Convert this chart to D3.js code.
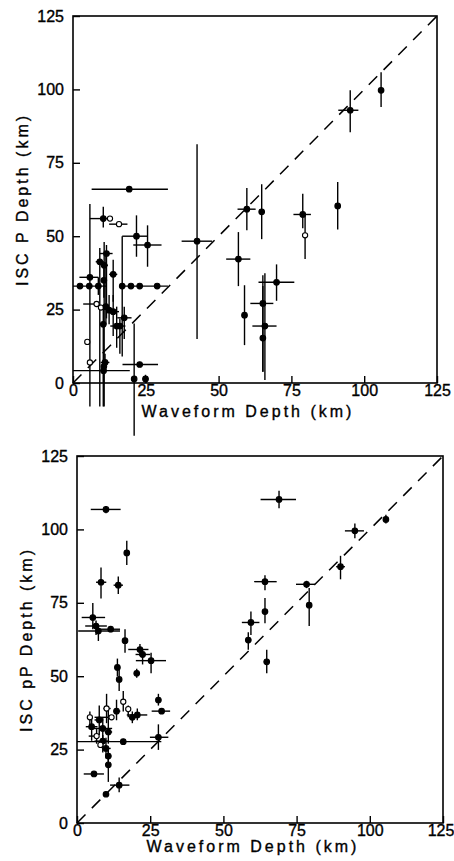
<!DOCTYPE html>
<html>
<head>
<meta charset="utf-8">
<script src="https://d3js.org/d3.v7.min.js"></script>
<style>
  body { margin: 0; background: #fff; }
  text { font-family: "Liberation Sans", Arial, sans-serif; fill: #000; stroke: #000; stroke-width: 0.35px; }
</style>
</head>
<body>
<script>
// tick values for both axes
var tickValues = [0, 25, 50, 75, 100, 125];

// [waveform depth, ISC depth, x low, x high, y low, y high, open]
var pPoints = [
  [105.8, 99.7, 105.3, 106.3, 94, 105.8, 0],
  [95.2, 92.9, 91.1, 98, 85.4, 99.7, 0],
  [42.6, 48.3, 37.3, 47.8, 15, 81.3, 0],
  [59.7, 59.2, 56.5, 62.7, 52, 66.4, 0],
  [64.8, 58.3, 64, 65.6, 49, 67.7, 0],
  [56.8, 42.2, 52.6, 60.9, 33, 51.4, 0],
  [58.9, 23.1, 58.2, 59.6, 12.9, 33.3, 0],
  [69.9, 34.3, 63.7, 76, 28, 40.4, 0],
  [65.2, 27.1, 60.9, 68.8, 3.8, 36.7, 0],
  [65.9, 19.4, 61.6, 69.9, 1, 37.4, 0],
  [65.2, 15.3, 64.5, 65.9, 3.8, 33, 0],
  [78.9, 57.4, 75.7, 81.7, 52.7, 64.5, 0],
  [79.7, 50.3, 79.7, 79.7, 42.2, 57, 1],
  [90.9, 60.3, 90.2, 91.6, 52.3, 68.5, 0],
  [19.3, 66, 6.4, 32.6, 66, 66, 0],
  [10.4, 56, 5.8, 13.7, 53, 60, 0],
  [12.7, 56, 12.7, 12.7, 56, 56, 1],
  [15.8, 54.1, 12.4, 18.7, 54.1, 54.1, 1],
  [21.8, 50, 16.9, 25.6, 43, 57.1, 0],
  [25.6, 47, 20.7, 30.4, 39.6, 53.7, 0],
  [5.8, 36, 2.2, 8.7, -8, 61, 0],
  [2.4, 33, 0, 11.5, 33, 33, 0],
  [5.6, 33, 5.6, 5.6, 33, 33, 0],
  [8.7, 33, 8.7, 8.7, 30, 36, 0],
  [16.9, 33, 16.9, 16.9, 9, 50, 0],
  [19.9, 33, 19.9, 19.9, 33, 33, 0],
  [22.9, 33, 22.9, 22.9, 33, 33, 0],
  [28.9, 33, 17, 32.6, 33, 33, 0],
  [11.5, 44.1, 9.2, 13.6, 22, 47, 0],
  [9.2, 41.3, 7.8, 10.6, -8, 46, 0],
  [10.7, 40.1, 9.5, 12, -8, 48, 0],
  [10.6, 35, 10.6, 10.6, 29, 40, 0],
  [13.8, 37, 12.4, 15.2, 27.7, 42, 0],
  [8.1, 26.9, 3.5, 8.1, 26.9, 26.9, 1],
  [9.6, 25.7, 9.6, 9.6, 25.7, 25.7, 1],
  [11.3, 26, 10.3, 12.3, 20, 44, 0],
  [12.4, 24.8, 11.4, 14.4, 20, 30, 0],
  [13.8, 24.3, 12.8, 15.8, 16, 30, 0],
  [15, 19.4, 12.8, 17, 12, 26, 0],
  [16.1, 19.4, 15, 18, 10, 22, 0],
  [17.6, 22.2, 15.2, 20.1, 15, 26, 0],
  [4.9, 14, 4.9, 4.9, 14, 14, 1],
  [5.8, 7, 5.8, 5.8, 7, 7, 1],
  [10.4, 20, 9.4, 11.4, -8, 26, 0],
  [11, 7, 9.5, 12.5, 4, 10, 0],
  [10.6, 5.6, 10.6, 10.6, 3, 8, 0],
  [10.5, 4.2, 0, 19.5, 0, 4.2, 0],
  [22.9, 6.3, 17, 29.2, 6.3, 6.3, 0],
  [21, 1.4, 21, 21, -18, 20.3, 0],
  [24.9, 1.4, 23.9, 25.9, 0, 2.8, 0]
];

var pPPoints = [
  [69, 110.2, 62.7, 74.8, 107.2, 113.2, 0],
  [9.9, 106.8, 4.7, 14.9, 105.5, 108, 0],
  [105.5, 103.4, 105.5, 105.5, 102, 105, 0],
  [94.9, 99.5, 91.5, 98, 97, 102, 0],
  [17, 92, 16.5, 17.5, 87.9, 96.1, 0],
  [90, 87.3, 88.5, 91.5, 83, 91, 0],
  [8.2, 82, 6.5, 10, 76.5, 87, 0],
  [14.1, 81, 12.5, 15.7, 78, 84, 0],
  [64.2, 82.2, 60.5, 68.2, 79.3, 84.4, 0],
  [78.4, 81.3, 74.8, 81.3, 80, 82.5, 0],
  [79.3, 74.2, 79.3, 79.3, 67.1, 80, 0],
  [64.2, 72, 63.2, 65.2, 68, 76.6, 0],
  [59.4, 68.3, 56.3, 62.3, 64, 72, 0],
  [58.5, 62.3, 57.5, 59.5, 59, 65, 0],
  [64.8, 54.9, 63.8, 65.8, 51, 59, 0],
  [5.4, 70, 1.6, 9.6, 66, 74.9, 0],
  [6.5, 67.1, 2.8, 10.2, 64, 69, 0],
  [7.3, 65.4, 0.4, 14.7, 62, 67, 0],
  [11.5, 66, 7.1, 14.7, 65, 67, 0],
  [16.4, 62.1, 16, 16.8, 58, 66, 0],
  [21.5, 59.1, 17.5, 24.4, 57, 61, 0],
  [22.4, 57.4, 20, 25, 54, 59, 0],
  [25.3, 55.3, 20.1, 30.4, 51, 58, 0],
  [13.8, 53, 13, 14.6, 50, 56, 0],
  [14.4, 48.9, 13.6, 15.2, 45, 53, 0],
  [20.4, 51, 20, 20.8, 49.5, 52.5, 0],
  [27.8, 41.9, 27, 28.6, 40, 44, 0],
  [28.9, 38.1, 25.5, 31.8, 38.1, 38.1, 0],
  [27.8, 29.2, 24.9, 31.2, 24.9, 33.6, 0],
  [14.4, 12.9, 11.3, 17.9, 10.5, 15.5, 0],
  [9.9, 9.8, 9, 10.8, 9.8, 9.8, 0],
  [5.8, 16.7, 2.3, 9.2, 16.7, 16.7, 0],
  [10.7, 19.8, 10.7, 10.7, 14, 25, 0],
  [10.7, 22.8, 9.7, 11.7, 20, 26, 0],
  [9.9, 25.4, 8.5, 11.5, 22, 29, 0],
  [15.8, 27.7, 0, 28.8, 27.7, 27.7, 0],
  [5, 32.8, 3, 7, 28, 36, 0],
  [4.4, 36, 4.4, 4.4, 33, 38, 1],
  [7.6, 35.1, 6, 9, 30, 40, 0],
  [10.1, 39, 9, 11.5, 34, 44, 1],
  [13.5, 38.1, 12.5, 14.8, 35, 42, 0],
  [15.8, 41.3, 15.8, 15.8, 38, 45, 1],
  [17.5, 38.8, 17.5, 17.5, 36, 40, 1],
  [18.9, 36, 18, 20, 34, 38, 0],
  [20.6, 36.8, 17, 24, 35, 39, 0],
  [11.8, 36, 6, 11.8, 36, 36, 1],
  [8.8, 32.2, 4, 12, 28, 36, 0],
  [10.7, 31, 9.5, 12, 27, 39, 0],
  [6.7, 29.6, 4, 6.7, 27, 32, 1],
  [8.8, 27.9, 6, 11, 24, 30, 0],
  [8, 26.6, 8, 8, 26.6, 26.6, 1]
];

var svg = d3.select("body").append("svg")
  .attr("width", 454)
  .attr("height", 861);

function drawPanel(points, box, yTitle) {
  var x = d3.scaleLinear().domain([0, 125]).range([box.left, box.right]);
  var y = d3.scaleLinear().domain([0, 125]).range([box.bottom, box.top]);
  var g = svg.append("g");

  // axes with inward ticks
  g.append("g")
    .attr("transform", "translate(0," + box.bottom + ")")
    .call(d3.axisBottom(x).tickValues(tickValues).tickSizeInner(-7).tickSizeOuter(0).tickPadding(2))
    .call(a => a.select(".domain").remove())
    .call(a => a.selectAll("line").attr("stroke", "#000").attr("stroke-width", 1.4))
    .call(a => a.selectAll("text").attr("font-size", 16).attr("fill", "#000"))
    .call(a => a.selectAll("text").filter(d => d === 125).attr("dx", box.lastDx));

  g.append("g")
    .attr("transform", "translate(" + box.left + ",0)")
    .call(d3.axisLeft(y).tickValues(tickValues).tickSizeInner(-7).tickSizeOuter(0).tickPadding(9))
    .call(a => a.select(".domain").remove())
    .call(a => a.selectAll("line").attr("stroke", "#000").attr("stroke-width", 1.4))
    .call(a => a.selectAll("text").attr("font-size", 16).attr("fill", "#000"));

  g.append("rect")
    .attr("x", box.left).attr("y", box.top)
    .attr("width", box.right - box.left).attr("height", box.bottom - box.top)
    .attr("fill", "none").attr("stroke", "#000").attr("stroke-width", 1.6);

  // 1:1 line
  g.append("line")
    .attr("x1", x(0)).attr("y1", y(0))
    .attr("x2", x(125)).attr("y2", y(125))
    .attr("stroke", "#000").attr("stroke-width", 1.5)
    .attr("stroke-dasharray", "12,9");

  // error bars
  var bars = g.append("g").attr("stroke", "#000").attr("stroke-width", 1.4);
  bars.selectAll(".xe").data(points.filter(d => d[3] > d[2])).join("line")
    .attr("x1", d => x(d[2])).attr("x2", d => x(d[3]))
    .attr("y1", d => y(d[1])).attr("y2", d => y(d[1]));
  bars.selectAll(".ye").data(points.filter(d => d[5] > d[4])).join("line")
    .attr("x1", d => x(d[0])).attr("x2", d => x(d[0]))
    .attr("y1", d => y(d[4])).attr("y2", d => y(d[5]));

  g.append("g").selectAll("circle").data(points).join("circle")
    .attr("cx", d => x(d[0])).attr("cy", d => y(d[1]))
    .attr("r", d => d[6] ? 2.6 : 2.8)
    .attr("fill", d => d[6] ? "#fff" : "#000")
    .attr("stroke", "#000").attr("stroke-width", 1.1);

  g.append("text")
    .attr("x", box.xTitleX).attr("y", box.xTitleY)
    .attr("text-anchor", "middle")
    .attr("font-size", 16).attr("letter-spacing", 3)
    .text("Waveform Depth (km)");

  g.append("text")
    .attr("transform", "translate(" + box.yTitleX + "," + (box.top + box.bottom) / 2 + ") rotate(-90)")
    .attr("text-anchor", "middle")
    .attr("font-size", 16).attr("letter-spacing", 3)
    .text(yTitle);
}

drawPanel(pPoints, {left: 73, right: 437, top: 16, bottom: 383, lastDx: 0,
  xTitleX: 248, xTitleY: 417, yTitleX: 28}, "ISC P Depth (km)");
drawPanel(pPPoints, {left: 77, right: 443, top: 456, bottom: 823, lastDx: -2.5,
  xTitleX: 253, xTitleY: 852, yTitleX: 32}, "ISC pP Depth (km)");
</script>
</body>
</html>
